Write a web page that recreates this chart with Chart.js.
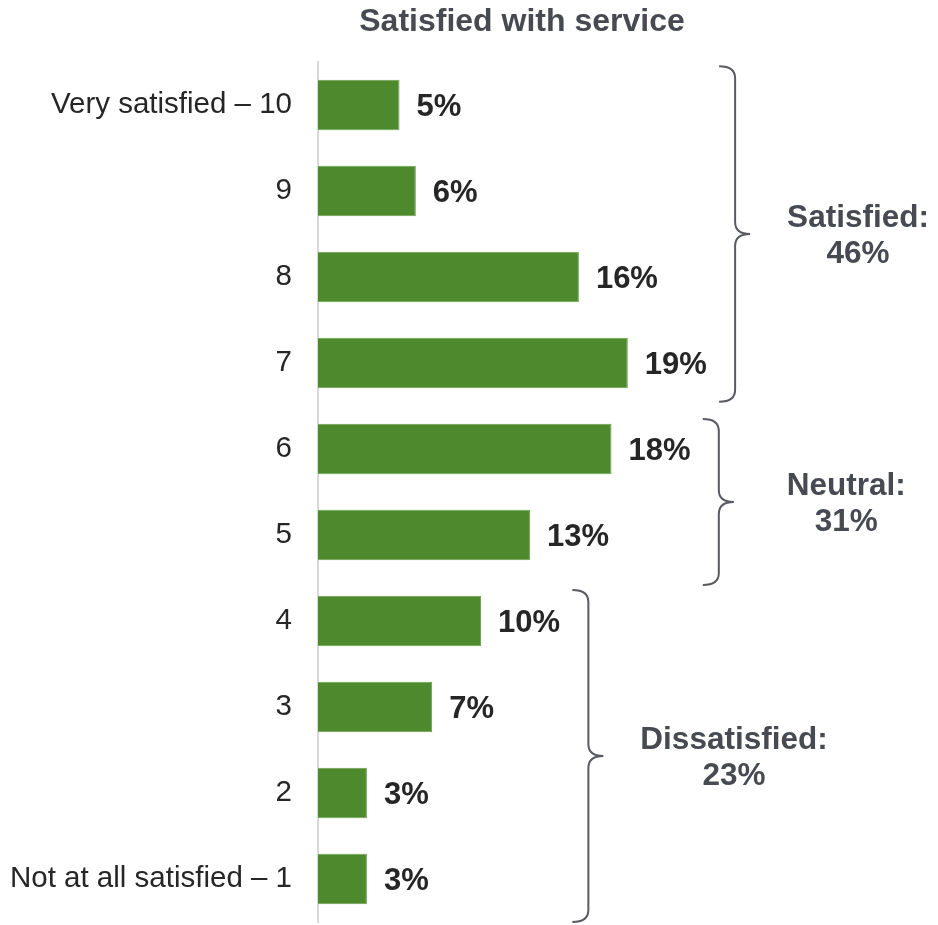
<!DOCTYPE html>
<html lang="en">

<head>
    <meta http-equiv="Content-Type" content="text/html;charset=UTF-8">
    <title>Satisfied with service</title>
    <script src="https://cdn.jsdelivr.net/npm/chart.js@4.4.0/dist/chart.umd.min.js"></script>
</head>

<body style="margin: 0; background: white; overflow: hidden;">
    <canvas id="barchart" width="938" height="925" style="display: block;"></canvas>

    <script>
        var chartTitle = "Satisfied with service";
        var categories = ["Very satisfied \u2013 10", "9", "8", "7", "6", "5", "4", "3", "2", "Not at all satisfied \u2013 1"];
        var values = [5, 6, 16, 19, 18, 13, 10, 7, 3, 3];

        // groups for the braces on the right (from / to are category positions)
        var groupNames = ["Satisfied:", "Neutral:", "Dissatisfied:"];
        var groupTotals = ["46%", "31%", "23%"];
        var groupFrom = [-0.45, 3.65, 5.64];
        var groupTo = [3.45, 5.58, 9.5];
        var groupMax = [19, 18, 10];

        var titleText = {
            id: 'titleText',
            afterDraw: function (chart) {
                var ctx = chart.ctx;
                ctx.save();
                ctx.font = "bold 32px 'Liberation Sans', Arial, sans-serif";
                ctx.fillStyle = '#474a51';
                ctx.textAlign = 'center';
                ctx.textBaseline = 'middle';
                ctx.fillText(chartTitle, 522, 22);
                ctx.restore();
            }
        };

        var valueLabels = {
            id: 'valueLabels',
            afterDatasetsDraw: function (chart) {
                var ctx = chart.ctx;
                var meta = chart.getDatasetMeta(0);
                ctx.save();
                ctx.font = "bold 31px 'Liberation Sans', Arial, sans-serif";
                ctx.fillStyle = '#262626';
                ctx.textBaseline = 'middle';
                ctx.textAlign = 'left';
                meta.data.forEach(function (bar, i) {
                    ctx.fillText(values[i] + '%', bar.x + 17, bar.y + 2);
                });
                ctx.restore();
            }
        };

        var braces = {
            id: 'braces',
            afterDraw: function (chart) {
                var ctx = chart.ctx;
                var x = chart.scales.x;
                var y = chart.scales.y;
                var labelShift = [0, 16, 0];
                ctx.save();
                for (var i = 0; i < groupNames.length; i++) {
                    var top = y.getPixelForValue(groupFrom[i]);
                    var bottom = y.getPixelForValue(groupTo[i]);
                    var mid = (top + bottom) / 2;
                    var x0 = x.getPixelForValue(groupMax[i] + 5.6);
                    var x1 = x0 + 16;
                    var x2 = x1 + 15;
                    var r = 12;

                    ctx.beginPath();
                    ctx.strokeStyle = '#595b60';
                    ctx.lineWidth = 2;
                    ctx.moveTo(x0, top);
                    ctx.quadraticCurveTo(x1, top, x1, top + r);
                    ctx.lineTo(x1, mid - r);
                    ctx.quadraticCurveTo(x1, mid, x2, mid);
                    ctx.quadraticCurveTo(x1, mid, x1, mid + r);
                    ctx.lineTo(x1, bottom - r);
                    ctx.quadraticCurveTo(x1, bottom, x0, bottom);
                    ctx.stroke();

                    ctx.font = "bold 31.5px 'Liberation Sans', Arial, sans-serif";
                    ctx.fillStyle = '#474a51';
                    ctx.textBaseline = 'middle';
                    ctx.textAlign = 'center';
                    var w = ctx.measureText(groupNames[i]).width;
                    var cx = x2 + 37 + w / 2 + labelShift[i];
                    ctx.fillText(groupNames[i], cx, mid - 16);
                    ctx.fillText(groupTotals[i], cx, mid + 20);
                }
                ctx.restore();
            }
        };

        new Chart(document.getElementById('barchart'), {
            type: 'bar',
            data: {
                labels: categories,
                datasets: [
                    {
                        data: values,
                        backgroundColor: '#4d8a2d',
                        borderColor: '#6c9f52',
                        borderWidth: 1,
                        categoryPercentage: 1,
                        barPercentage: 0.59
                    }
                ]
            },
            plugins: [titleText, valueLabels, braces],
            options: {
                indexAxis: 'y',
                responsive: false,
                animation: false,
                layout: {
                    padding: { left: 0, right: 33, top: 62, bottom: 3 }
                },
                scales: {
                    x: {
                        display: false,
                        min: 0,
                        max: 36
                    },
                    y: {
                        afterFit: function (scale) {
                            scale.width = 318;
                            // tick labels would otherwise push the plot area in
                            scale.paddingTop = 0;
                            scale.paddingBottom = 0;
                        },
                        grid: { display: false, drawTicks: false },
                        border: { display: true, color: '#d9d9d9', width: 2 },
                        ticks: {
                            padding: 26,
                            color: '#262626',
                            font: { family: "'Liberation Sans', Arial, sans-serif", size: 29.5 }
                        }
                    }
                },
                plugins: {
                    legend: { display: false },
                    tooltip: { enabled: false },
                    title: { display: false }
                }
            }
        });
    </script>
</body>

</html>
